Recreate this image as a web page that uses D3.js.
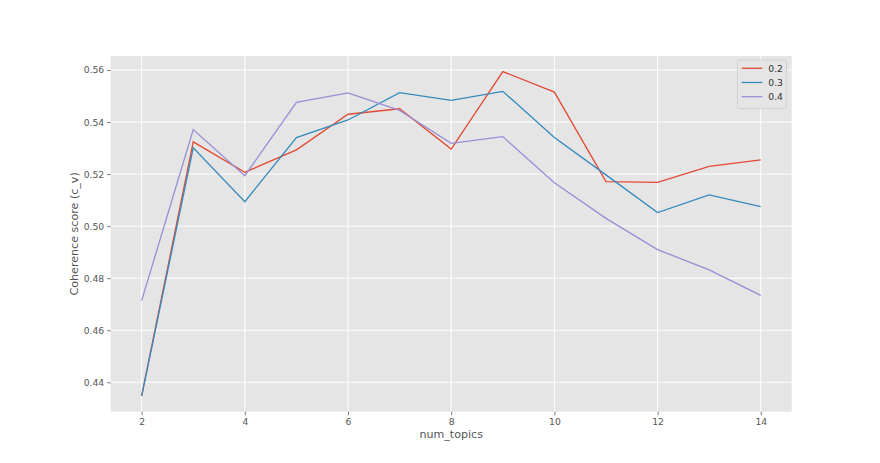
<!DOCTYPE html>
<html>
<head>
<meta charset="utf-8">
<script src="https://cdn.jsdelivr.net/npm/d3@7"></script>
<style>
  body { margin: 0; background: #fff; }
  svg text { font-family: "DejaVu Sans", sans-serif; }
</style>
</head>
<body>
<div id="chart"></div>
<script>
// num_topics on x, coherence per alpha value
var numTopics = [2, 3, 4, 5, 6, 7, 8, 9, 10, 11, 12, 13, 14]
var seriesNames = ['0.2', '0.3', '0.4']
var coh02 = [0.4349, 0.5324, 0.5207, 0.5293, 0.5430, 0.5451, 0.5296, 0.5594, 0.5515, 0.5171, 0.5168, 0.5230, 0.5255]
var coh03 = [0.4347, 0.5301, 0.5094, 0.5340, 0.5408, 0.5513, 0.5483, 0.5518, 0.5341, 0.5197, 0.5052, 0.5120, 0.5075]
var coh04 = [0.4714, 0.5371, 0.5194, 0.5476, 0.5512, 0.5445, 0.5318, 0.5344, 0.5167, 0.5030, 0.4910, 0.4832, 0.4734]
var xTicks = [2, 4, 6, 8, 10, 12, 14]
var yTicks = [0.44, 0.46, 0.48, 0.50, 0.52, 0.54, 0.56]

var colors = ['#E24A33', '#348ABD', '#988ED5']
var allSeries = [coh02, coh03, coh04].map(function(vals, i){
    return { name: seriesNames[i], values: vals.map(function(v, j){ return { x: numTopics[j], y: v } }) }
})

var W = 880, H = 463
var margin = { top: 56, left: 110.7, right: 88.3, bottom: 51.3 }
var width = W - margin.left - margin.right
var height = H - margin.top - margin.bottom

var x = d3.scaleLinear().domain([1.4, 14.6]).range([0, width])
var y = d3.scaleLinear().domain([0.56 - 14/2602.5 , 0.44 - 29.4/2602.5]).range([0, height])
// y: 0.56 sits 14px below top, 0.44 sits 29.4px above bottom
y.domain([0.56 + 14/2602.5, 0.44 - 29.4/2602.5])

var svg = d3.select('#chart').append('svg')
    .attr('width', W).attr('height', H)

var g = svg.append('g')
    .attr('transform', 'translate(' + margin.left + ',' + margin.top + ')')

g.append('rect')
    .attr('width', width).attr('height', height)
    .attr('fill', '#E5E5E5')

// grid
g.selectAll('.gx').data(xTicks).enter().append('line')
    .attr('x1', d => x(d)).attr('x2', d => x(d))
    .attr('y1', 0).attr('y2', height)
    .attr('stroke', '#fff').attr('stroke-width', 1)
g.selectAll('.gy').data(yTicks).enter().append('line')
    .attr('y1', d => y(d)).attr('y2', d => y(d))
    .attr('x1', 0).attr('x2', width)
    .attr('stroke', '#fff').attr('stroke-width', 1)

var xAxis = d3.axisBottom(x).tickValues(xTicks).tickSize(3.5).tickPadding(3).tickFormat(d3.format('d'))
var yAxis = d3.axisLeft(y).tickValues(yTicks).tickSize(3.5).tickPadding(3).tickFormat(d3.format('.2f'))

var gx = g.append('g').attr('transform', 'translate(0,' + height + ')').call(xAxis)
var gy = g.append('g').call(yAxis)
;[gx, gy].forEach(function(a){
    a.select('.domain').remove()
    a.selectAll('line').attr('stroke', '#555').attr('stroke-width', 0.8)
    a.selectAll('text').attr('fill', '#555').style('font-size', '9.2px')
})

var line = d3.line()
    .x(d => x(d.x))
    .y(d => y(d.y))

g.selectAll('.series').data(allSeries).enter().append('path')
    .attr('fill', 'none')
    .attr('stroke', (d, i) => colors[i])
    .attr('stroke-width', 1.3)
    .attr('d', d => line(d.values))

// axis labels
g.append('text')
    .attr('x', width / 2).attr('y', height + 26)
    .attr('text-anchor', 'middle')
    .attr('fill', '#555')
    .style('font-size', '11.1px')
    .text('num_topics')

g.append('text')
    .attr('transform', 'translate(' + (74 - margin.left + 4) + ',' + (height / 2) + ') rotate(-90)')
    .attr('text-anchor', 'middle')
    .attr('fill', '#555')
    .style('font-size', '11.1px')
    .text('Coherence score (c_v)')

// legend
var lg = svg.append('g').attr('transform', 'translate(737.5,60)')
lg.append('rect')
    .attr('width', 49).attr('height', 48.5).attr('rx', 2)
    .attr('fill', '#E5E5E5').attr('stroke', '#CCCCCC').attr('stroke-width', 0.8)
var item = lg.selectAll('.item').data(allSeries).enter().append('g')
    .attr('transform', (d, i) => 'translate(0,' + (8.3 + i * 14.2) + ')')
item.append('line')
    .attr('x1', 4.2).attr('x2', 24.8)
    .attr('stroke', (d, i) => colors[i]).attr('stroke-width', 1.3)
item.append('text')
    .attr('x', 30.8).attr('dy', '0.35em')
    .attr('fill', '#333')
    .style('font-size', '9.2px')
    .text(d => d.name)
</script>
</body>
</html>
